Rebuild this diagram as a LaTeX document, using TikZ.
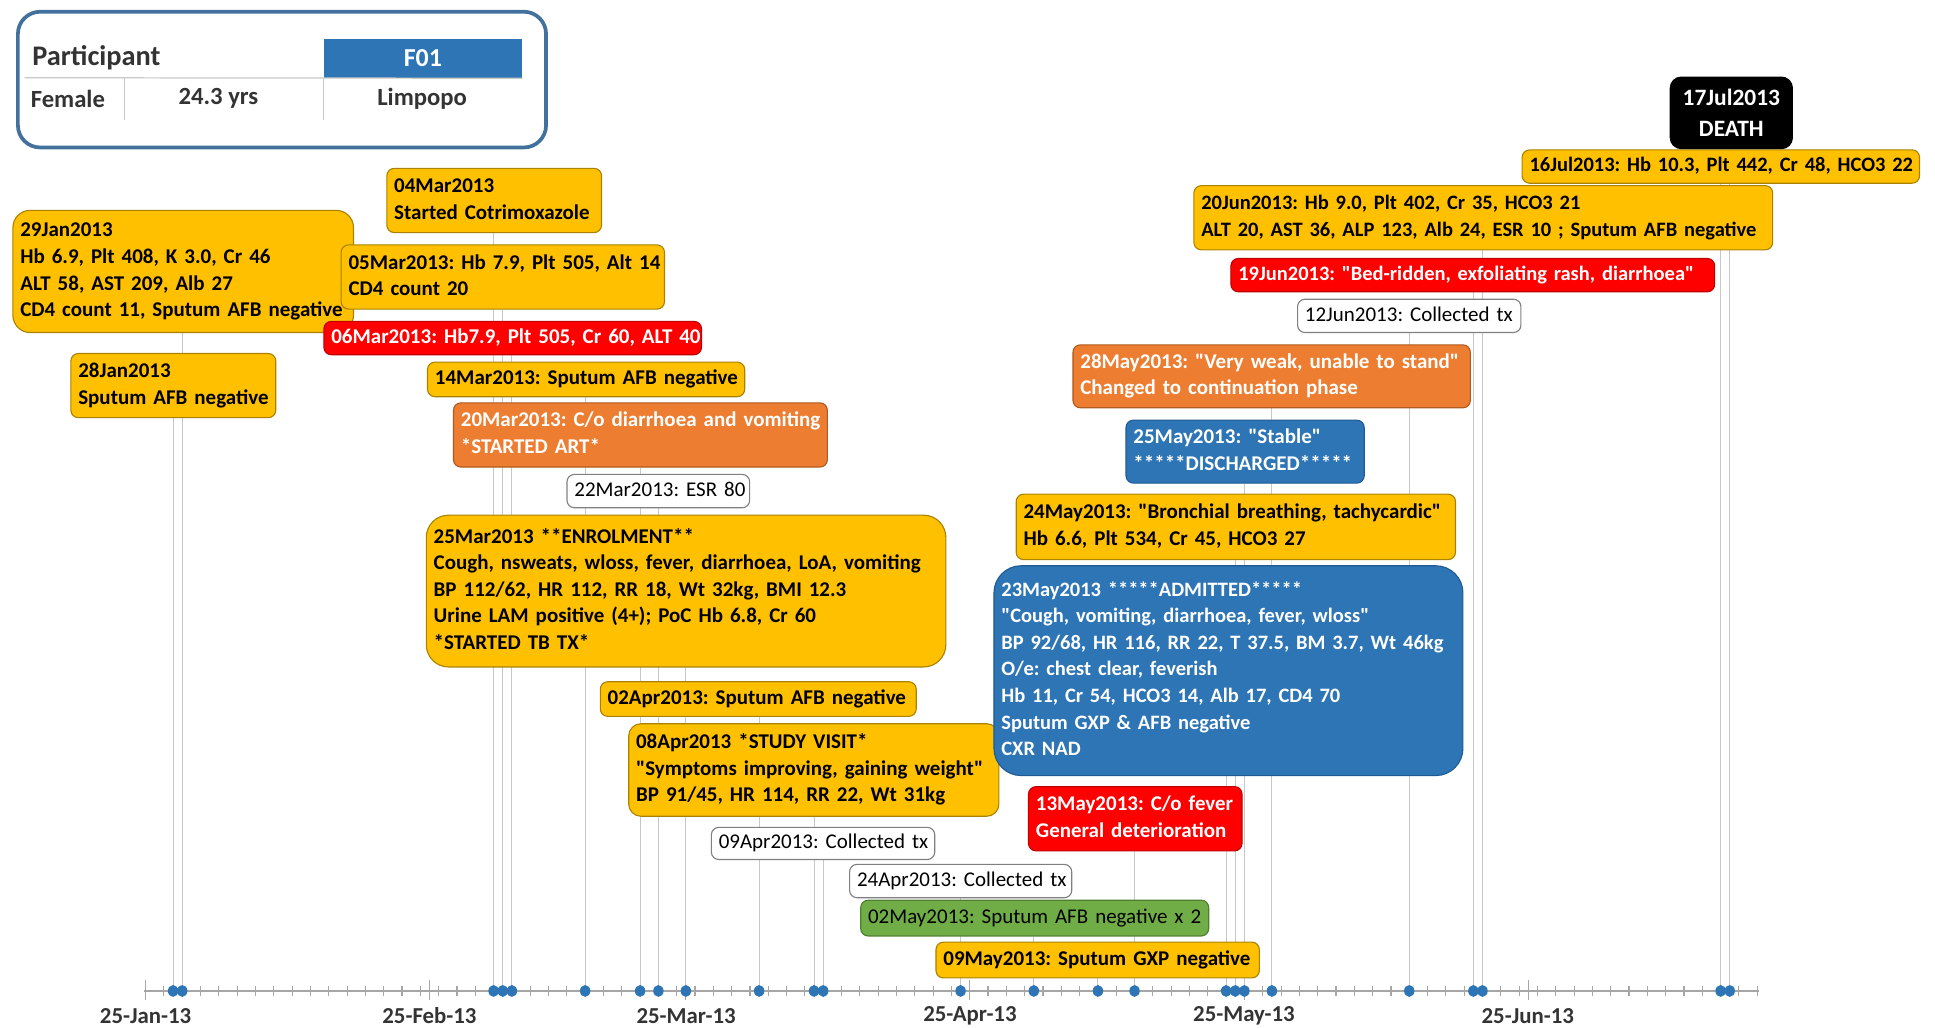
\documentclass[tikz,border=0pt]{standalone}
\usepackage{fontspec}
\setmainfont{Carlito}[Ligatures=TeXOff]
\frenchspacing
\definecolor{cyel}{HTML}{FFC000}
\definecolor{cyelb}{HTML}{A88200}
\definecolor{cred}{HTML}{FF0000}
\definecolor{credb}{HTML}{C00000}
\definecolor{corg}{HTML}{ED7D31}
\definecolor{corgb}{HTML}{B05A20}
\definecolor{cblu}{HTML}{2E75B6}
\definecolor{cblub}{HTML}{1F5A94}
\definecolor{cgrn}{HTML}{70AD47}
\definecolor{cgrnb}{HTML}{4E7F30}
\definecolor{cgry}{HTML}{C8C8C8}
\definecolor{caxis}{HTML}{A6A6A6}
\definecolor{cframe}{HTML}{41719C}
\definecolor{ctxt}{HTML}{333333}
\newcommand\tb[1]{\begin{tabular}{@{}l@{}}#1\end{tabular}}
\newcommand\qq{\symbol{"22}}
\pgfdeclarelayer{bg}\pgfsetlayers{bg,main}
\begin{document}
\begin{tikzpicture}[x=1pt,y=-1pt,
 box/.style={anchor=north west, rounded corners=6pt, line width=0.9pt, inner xsep=6pt, inner ysep=0pt, align=left, font=\fontsize{17}{21.5}\selectfont\bfseries},
 narrow/.style={font=\fontsize{16.6}{21.5}\selectfont\bfseries},
 ybox/.style={box, fill=cyel, draw=cyelb, text=black},
 rbox/.style={box, fill=cred, draw=credb, text=white},
 obox/.style={box, fill=corg, draw=corgb, text=white},
 bbox/.style={box, fill=cblu, draw=cblub, text=white},
 gbox/.style={box, fill=cgrn, draw=cgrnb, text=black, font=\fontsize{17}{21.5}\selectfont},
 wbox/.style={box, fill=white, draw=gray, text=black, font=\fontsize{17}{21.5}\selectfont},
 vline/.style={draw=cgry, line width=0.9pt},
 dot/.style={fill=cblu, draw=none},
 axlab/.style={font=\fontsize{18.5}{20}\selectfont\bfseries, text=ctxt, anchor=center},
 ptxt/.style={font=\fontsize{20}{22}\selectfont\bfseries, text=ctxt, anchor=center},
]
\useasboundingbox (0,0) rectangle (1568,833);

% participant panel
\node[draw=cframe, line width=3pt, rounded corners=18pt, minimum width=428pt, minimum height=110pt, anchor=north west, fill=white] (pbox) at (13,8) {};
\node[fill=cblu, anchor=north west, minimum width=161pt, minimum height=32pt, inner sep=0pt, text=white, font=\fontsize{21}{22}\selectfont\bfseries] (f01) at (262,31) {F01};
\node[font=\fontsize{23}{24}\selectfont\bfseries, text=ctxt, anchor=west, inner sep=0pt] (ptitle) at (26,47) {Participant};
\node[ptxt] (sex) at (55,80) {Female};
\node[ptxt] (age) at (177,80) {24.3 yrs};
\node[ptxt] (prov) at (342,80) {Limpopo};
\coordinate (rl) at (20,63);
\coordinate (rv1) at (101,97);
\coordinate (rv2) at (262,97);
\draw[cgry, line width=1pt] (rl) -- (f01.south east);
\draw[cgry, line width=1pt] (rv1) -- (rv1 |- f01.south);
\draw[cgry, line width=1pt] (rv2) -- (f01.south west);

% event boxes
\node[ybox, rounded corners=14pt, minimum height=99pt, text width=264pt] (e29jan) at (10,170) {\tb{29Jan2013\\Hb 6.9, Plt 408, K 3.0, Cr 46\\ALT 58, AST 209, Alb 27\\CD4 count 11, Sputum AFB negative}};
\node[ybox, minimum height=52pt, text width=154pt] (e28jan) at (57,286) {\tb{28Jan2013\\Sputum AFB negative}};
\node[ybox, minimum height=52pt, text width=162pt] (e04mar) at (313,136) {\tb{04Mar2013\\Started Cotrimoxazole}};
\node[ybox, minimum height=52pt, text width=250pt] (e05mar) at (276,198) {\tb{05Mar2013: Hb 7.9, Plt 505, Alt 14\\CD4 count 20}};
\node[rbox, minimum height=27pt, text width=294pt] (e06mar) at (262,260) {\tb{06Mar2013: Hb7.9, Plt 505, Cr 60, ALT 40}};
\node[ybox, minimum height=28pt, text width=245pt] (e14mar) at (346,293) {\tb{14Mar2013: Sputum AFB negative}};
\node[obox, minimum height=52pt, text width=291pt] (e20mar) at (367,326) {\tb{20Mar2013: C/o diarrhoea and vomiting\\{}*STARTED ART*}};
\node[wbox, minimum height=27pt, text width=136pt] (e22mar) at (459,384) {\tb{22Mar2013: ESR 80}};
\node[ybox, rounded corners=18pt, minimum height=123pt, text width=409pt] (e25mar) at (345,417) {\tb{25Mar2013 **ENROLMENT**\\Cough, nsweats, wloss, fever, diarrhoea, LoA, vomiting\\BP 112/62, HR 112, RR 18, Wt 32kg, BMI 12.3\\Urine LAM positive (4+); PoC Hb 6.8, Cr 60\\{}*STARTED TB TX*}};
\node[ybox, minimum height=28pt, text width=244pt] (e02apr) at (486,552) {\tb{02Apr2013: Sputum AFB negative}};
\node[ybox, rounded corners=10pt, minimum height=75pt, text width=288pt] (e08apr) at (509,586) {\tb{08Apr2013 *STUDY VISIT*\\\qq Symptoms improving, gaining weight\qq\\BP 91/45, HR 114, RR 22, Wt 31kg}};
\node[wbox, minimum height=26pt, text width=169pt] (e09apr) at (576,670) {\tb{09Apr2013: Collected tx}};
\node[wbox, minimum height=27pt, text width=168pt] (e24apr) at (688,700) {\tb{24Apr2013: Collected tx}};
\node[gbox, minimum height=29pt, text width=270pt] (e02may) at (697,729) {\tb{02May2013: Sputum AFB negative x 2}};
\node[ybox, minimum height=29pt, text width=250pt] (e09may) at (758,763) {\tb{09May2013: Sputum GXP negative}};
\node[rbox, minimum height=52pt, text width=161pt] (e13may) at (833,637) {\tb{13May2013: C/o fever\\General deterioration}};
\node[bbox, narrow, rounded corners=22pt, minimum height=170pt, text width=368pt] (e23may) at (805,458) {\tb{23May2013 *****ADMITTED*****\\\qq Cough, vomiting, diarrhoea, fever, wloss\qq\\BP 92/68, HR 116, RR 22, T 37.5, BM 3.7, Wt 46kg\\O/e: chest clear, feverish\\Hb 11, Cr 54, HCO3 14, Alb 17, CD4 70\\Sputum GXP \& AFB negative\\CXR NAD}};
\node[ybox, minimum height=53pt, text width=344pt] (e24may) at (823,400) {\tb{24May2013: \qq Bronchial breathing, tachycardic\qq\\Hb 6.6, Plt 534, Cr 45, HCO3 27}};
\node[bbox, minimum height=51pt, text width=181pt] (e25may) at (912,340) {\tb{25May2013: \qq Stable\qq\\{}*****DISCHARGED*****}};
\node[obox, minimum height=51pt, text width=310pt] (e28may) at (869,279) {\tb{28May2013: \qq Very weak, unable to stand\qq\\Changed to continuation phase}};
\node[wbox, minimum height=27pt, text width=169pt] (e12jun) at (1051,242) {\tb{12Jun2013: Collected tx}};
\node[rbox, narrow, minimum height=27pt, text width=380pt] (e19jun) at (997,209) {\tb{19Jun2013: \qq Bed-ridden, exfoliating rash, diarrhoea\qq}};
\node[ybox, narrow, minimum height=52pt, text width=457pt] (e20jun) at (967,150) {\tb{20Jun2013: Hb 9.0, Plt 402, Cr 35, HCO3 21\\ALT 20, AST 36, ALP 123, Alb 24, ESR 10 ; Sputum AFB negative}};
\node[ybox, narrow, minimum height=27pt, text width=310pt] (e16jul) at (1233,121) {\tb{16Jul2013: Hb 10.3, Plt 442, Cr 48, HCO3 22}};
\node[box, fill=black, draw=black, text=white, rounded corners=9pt, minimum width=99pt, minimum height=58pt, align=center, font=\fontsize{19}{25}\selectfont\bfseries] (e17jul) at (1353,62) {17Jul2013\\DEATH};

% axis
\coordinate (ax0) at (117,803);
\coordinate (ax1) at (1425,803);
\begin{pgfonlayer}{bg}
\draw[caxis, line width=1.3pt] (ax0) -- (ax1);
\foreach \d in {0,2,...,176} \draw[caxis, line width=0.9pt] (118+7.42*\d,799) -- ++(0,8);
\foreach \d in {0,31,59,90,120,151} \draw[caxis, line width=1pt] (118+7.42*\d,794) -- ++(0,16);
\end{pgfonlayer}
\node[axlab] (l1) at (118,823) {25-Jan-13};
\node[axlab] (l2) at (348,823) {25-Feb-13};
\node[axlab] (l3) at (556,823) {25-Mar-13};
\node[axlab] (l4) at (786,823) {25-Apr-13};
\node[axlab] (l5) at (1008,823) {25-May-13};
\node[axlab] (l6) at (1238,823) {25-Jun-13};

% event dots and stems
\foreach \n/\d in {28jan/3,29jan/4,04mar/38,05mar/39,06mar/40,14mar/48,20mar/54,22mar/56,25mar/59,02apr/67,08apr/73,09apr/74,24apr/89,02may/97,09may/104,13may/108,23may/118,24may/119,25may/120,28may/123,12jun/138,19jun/145,20jun/146,16jul/172,17jul/173}{
  \coordinate (d\n) at (118+7.42*\d,803);
  \begin{pgfonlayer}{bg}
  \draw[vline] (d\n) -- (d\n |- e\n.south);
  \end{pgfonlayer}
  \fill[dot] (d\n) ellipse (4.2pt and 4.8pt);
}
\end{tikzpicture}
\end{document}
